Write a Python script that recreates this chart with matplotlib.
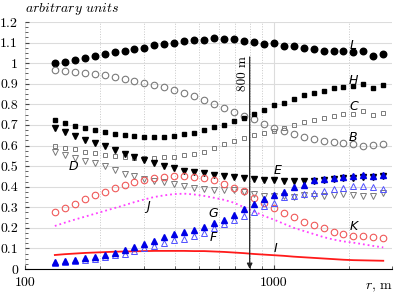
import numpy as np
import matplotlib
matplotlib.use("Agg")
import matplotlib.pyplot as plt
from matplotlib.ticker import FixedLocator, NullFormatter, MultipleLocator

plt.rcParams["font.family"] = "cmr10"
plt.rcParams["mathtext.fontset"] = "cm"
plt.rcParams["axes.formatter.use_mathtext"] = True

# distance r, m (log-spaced sampling)
r = [131.8, 144.5, 158.5, 173.8, 190.5, 208.9, 229.1, 251.2, 275.4, 302.0,
     331.1, 363.1, 398.1, 436.5, 478.6, 524.8, 575.4, 631.0, 691.8, 758.6,
     831.8, 912.0, 1000.0, 1096.5, 1202.3, 1318.3, 1445.4, 1584.9, 1737.8,
     1905.5, 2089.3, 2290.9, 2511.9, 2754.2]

L = [1.000, 1.007, 1.015, 1.023, 1.034, 1.043, 1.052, 1.059, 1.070, 1.076,
     1.087, 1.092, 1.100, 1.108, 1.113, 1.111, 1.122, 1.117, 1.116, 1.110,
     1.103, 1.095, 1.097, 1.084, 1.081, 1.074, 1.067, 1.061, 1.060, 1.061,
     1.054, 1.059, 1.034, 1.045]
B = [0.966, 0.963, 0.957, 0.953, 0.948, 0.942, 0.932, 0.924, 0.915, 0.906,
     0.896, 0.883, 0.870, 0.856, 0.839, 0.821, 0.803, 0.784, 0.765, 0.744,
     0.728, 0.704, 0.687, 0.671, 0.655, 0.643, 0.631, 0.622, 0.615, 0.611,
     0.605, 0.596, 0.604, 0.607]
H = [0.723, 0.709, 0.697, 0.686, 0.676, 0.665, 0.655, 0.649, 0.644, 0.639,
     0.643, 0.643, 0.647, 0.654, 0.662, 0.675, 0.688, 0.700, 0.720, 0.736,
     0.752, 0.771, 0.796, 0.808, 0.828, 0.843, 0.857, 0.865, 0.878, 0.886,
     0.888, 0.899, 0.880, 0.895]
C = [0.599, 0.588, 0.581, 0.570, 0.564, 0.556, 0.550, 0.546, 0.540, 0.539,
     0.541, 0.543, 0.546, 0.552, 0.559, 0.567, 0.587, 0.605, 0.621, 0.637,
     0.651, 0.660, 0.672, 0.684, 0.700, 0.716, 0.726, 0.735, 0.744, 0.753,
     0.753, 0.767, 0.750, 0.760]
D = [0.568, 0.554, 0.540, 0.527, 0.513, 0.499, 0.483, 0.463, 0.451, 0.438,
     0.429, 0.422, 0.415, 0.405, 0.394, 0.387, 0.386, 0.385, 0.382, 0.374,
     0.362, 0.357, 0.357, 0.354, 0.350, 0.358, 0.357, 0.357, 0.361, 0.362,
     0.361, 0.357, 0.354, 0.370]
E = [0.685, 0.667, 0.647, 0.628, 0.612, 0.597, 0.579, 0.561, 0.542, 0.529,
     0.515, 0.499, 0.491, 0.478, 0.471, 0.464, 0.458, 0.450, 0.446, 0.441,
     0.437, 0.433, 0.431, 0.429, 0.428, 0.427, 0.427, 0.430, 0.435, 0.442,
     0.444, 0.446, 0.445, 0.453]
K = [0.277, 0.298, 0.318, 0.338, 0.359, 0.376, 0.392, 0.409, 0.422, 0.433,
     0.442, 0.447, 0.454, 0.454, 0.449, 0.442, 0.433, 0.414, 0.395, 0.377,
     0.346, 0.320, 0.298, 0.272, 0.253, 0.229, 0.213, 0.197, 0.182, 0.172,
     0.162, 0.158, 0.154, 0.150]
J = [0.209, 0.225, 0.240, 0.254, 0.268, 0.282, 0.296, 0.310, 0.325, 0.338,
     0.350, 0.358, 0.364, 0.366, 0.362, 0.355, 0.346, 0.336, 0.322, 0.300,
     0.280, 0.258, 0.240, 0.220, 0.200, 0.185, 0.170, 0.155, 0.143, 0.134,
     0.128, 0.120, 0.112, 0.105]
I = [0.068, 0.072, 0.075, 0.078, 0.080, 0.082, 0.084, 0.085, 0.086, 0.087,
     0.088, 0.088, 0.088, 0.088, 0.087, 0.087, 0.085, 0.083, 0.080, 0.077,
     0.073, 0.070, 0.067, 0.064, 0.060, 0.057, 0.054, 0.051, 0.048, 0.045,
     0.043, 0.042, 0.041, 0.040]
G = [0.035, 0.040, 0.046, 0.052, 0.060, 0.069, 0.079, 0.090, 0.105, 0.120,
     0.137, 0.154, 0.170, 0.180, 0.188, 0.205, 0.222, 0.240, 0.262, 0.290,
     0.317, 0.341, 0.361, 0.375, 0.398, 0.409, 0.430, 0.435, 0.443, 0.446,
     0.451, 0.457, 0.452, 0.458]
F = [0.028, 0.033, 0.038, 0.043, 0.050, 0.058, 0.066, 0.075, 0.088, 0.100,
     0.114, 0.128, 0.140, 0.148, 0.162, 0.177, 0.198, 0.217, 0.237, 0.256,
     0.277, 0.305, 0.320, 0.350, 0.357, 0.362, 0.370, 0.380, 0.390, 0.393,
     0.402, 0.404, 0.396, 0.390]

yticks = [0, 0.1, 0.2, 0.3, 0.4, 0.5, 0.6, 0.7, 0.8, 0.9, 1.0, 1.1, 1.2]
ylabels = ["0", "0.1", "0.2", "0.3", "0.4", "0.5", "0.6", "0.7", "0.8",
           "0.9", "1", "1.1", "1.2"]
xminor = [200, 300, 400, 500, 600, 700, 800, 900, 2000, 3000]

# label name, x, y
labels = [("L", 2080, 1.088), ("H", 2090, 0.917), ("C", 2090, 0.790),
          ("B", 2090, 0.640), ("D", 156, 0.498), ("E", 1040, 0.478),
          ("J", 312, 0.305), ("K", 2090, 0.205), ("G", 572, 0.268),
          ("F", 572, 0.152), ("I", 1020, 0.100)]

GRAY = "#7a7a7a"
fig = plt.figure(figsize=(3.99, 2.95), dpi=100)
ax = fig.add_axes([25 / 399, 26 / 295, 367.5 / 399, 247 / 295])

ax.plot(r, I, "-", color="#ff1a1a", lw=1.3, zorder=3)
ax.plot(r, J, ":", color="#ff40ff", lw=1.3, zorder=3)
ax.plot(r, L, "o", color="black", ms=4.7, zorder=4)
ax.plot(r, B, "o", mfc="none", mec=GRAY, mew=0.8, ms=4.7, zorder=4)
ax.plot(r, H, "s", color="black", ms=2.8, zorder=4)
ax.plot(r, C, "s", mfc="none", mec=GRAY, mew=0.7, ms=3.0, zorder=4)
ax.plot(r, E, "v", color="black", ms=3.7, zorder=4)
ax.plot(r, D, "v", mfc="none", mec=GRAY, mew=0.7, ms=3.7, zorder=4)
ax.plot(r, K, "o", mfc="none", mec="#f05a5a", mew=0.8, ms=4.7, zorder=4)
ax.plot(r, F, "^", mfc="none", mec="#5050ff", mew=0.7, ms=3.7, zorder=4)
ax.plot(r, G, "^", color="#0000e6", ms=3.7, zorder=5)

for name, x, y in labels:
    ax.text(x, y, name, family="DejaVu Sans", style="italic", fontsize=9,
            ha="center", va="center", zorder=6)

ax.annotate("", xy=(800, 0), xytext=(800, 1.03),
            arrowprops=dict(arrowstyle="-|>", color="#222222", lw=0.9,
                            mutation_scale=8, shrinkA=0, shrinkB=0), zorder=6)
ax.text(755, 0.95, "800 m", rotation=90, ha="center", va="center", fontsize=9.5)

ax.set_xscale("log")
ax.set_xlim(100, 3000)
ax.set_ylim(0, 1.2)
ax.xaxis.set_major_locator(FixedLocator([100, 1000]))
ax.set_xticklabels(["100", "1000"])
ax.xaxis.set_minor_locator(FixedLocator(xminor))
ax.xaxis.set_minor_formatter(NullFormatter())
ax.set_yticks(yticks)
ax.set_yticklabels(ylabels)
ax.yaxis.set_minor_locator(MultipleLocator(0.025))

ax.grid(True, which="major", axis="y", color="#dcdcdc", lw=0.8)
ax.grid(True, which="major", axis="x", color="#dcdcdc", lw=0.8)
ax.grid(True, which="minor", axis="x", color="#c8c8c8", lw=0.7, ls=":")
ax.set_axisbelow(True)
for s in ["left", "top", "right"]:
    ax.spines[s].set_visible(False)
ax.spines["bottom"].set_color("black")
ax.tick_params(which="both", direction="in", labelsize=10, color="#444444")
ax.tick_params(which="major", length=3)
ax.tick_params(which="minor", length=2)
ax.tick_params(axis="y", pad=5)
ax.tick_params(axis="x", pad=6)

fig.text(25 / 399, 1 - 9 / 295, r"$\mathit{arbitrary\ units}$", fontsize=10,
         ha="left", va="center")
fig.text(393 / 399, 1 - 287 / 295, r"$r$, m", fontsize=10, ha="right",
         va="center")

fig.savefig("out.png", dpi=100)
